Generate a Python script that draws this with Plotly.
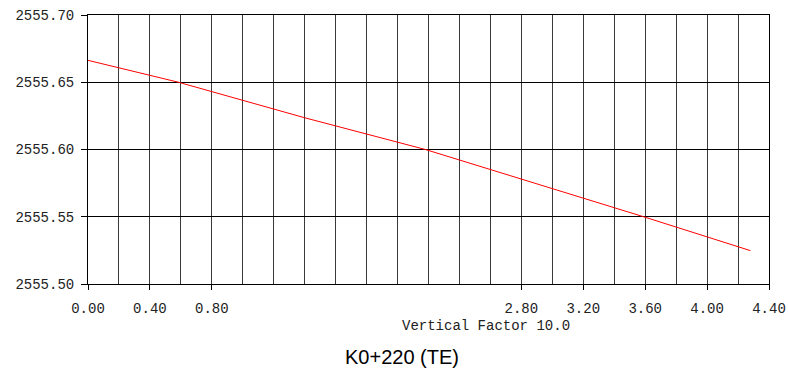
import plotly.graph_objects as go

# Ground profile sampled along the section
offset = [0.0, 0.585, 1.40, 2.18, 3.59, 4.28]
elevation = [2555.6663, 2555.650, 2555.6236, 2555.600, 2555.550, 2555.5248]

# Axis ticks
x_labeled = [0.0, 0.4, 0.8, 2.8, 3.2, 3.6, 4.0, 4.4]
x_grid = [round(i * 0.2, 2) for i in range(23)]
y_ticks = [2555.50, 2555.55, 2555.60, 2555.65, 2555.70]

section_title = "K0+220 (TE)"
factor_note = "Vertical Factor 10.0"

mono = dict(family="Liberation Mono, Courier New, monospace", size=14, color="#222")

fig = go.Figure()
fig.add_trace(go.Scatter(
    x=offset, y=elevation, mode="lines",
    line=dict(color="#ff0000", width=1),
    hoverinfo="skip", showlegend=False,
))

fig.update_layout(
    width=788, height=371,
    margin=dict(l=88, r=19, t=15, b=87, autoexpand=False),
    paper_bgcolor="white", plot_bgcolor="white",
    xaxis=dict(
        range=[0, 4.4], automargin=False,
        tickvals=x_labeled,
        ticktext=[f"{v:.2f}" for v in x_labeled],
        ticks="outside", ticklen=5, tickwidth=1, tickcolor="black",
        showgrid=True, gridcolor="#3a3a3a", gridwidth=1,
        minor=dict(tickvals=x_grid, showgrid=True, gridcolor="#3a3a3a",
                   gridwidth=1, ticks=""),
        showline=True, linecolor="black", linewidth=1, mirror=True,
        zeroline=False, tickfont=mono, ticklabelstandoff=6,
    ),
    yaxis=dict(
        range=[2555.50, 2555.70], automargin=False,
        tickvals=y_ticks,
        ticktext=[f"{v:.2f}" for v in y_ticks],
        ticks="outside", ticklen=6, tickwidth=1, tickcolor="black",
        showgrid=True, gridcolor="black", gridwidth=1,
        showline=True, linecolor="black", linewidth=1, mirror=True,
        zeroline=False, tickfont=mono, ticklabelstandoff=4,
    ),
    annotations=[
        dict(text=factor_note, xref="paper", yref="paper",
             x=(486 - 88) / 681, y=-0.155, xanchor="center", yanchor="middle",
             showarrow=False, font=mono),
        dict(text=section_title, xref="paper", yref="paper",
             x=(402 - 88) / 681, y=-0.27, xanchor="center", yanchor="middle",
             showarrow=False,
             font=dict(family="Liberation Sans, Arial, sans-serif", size=20,
                       color="black")),
    ],
)

fig.write_html("out.html")
